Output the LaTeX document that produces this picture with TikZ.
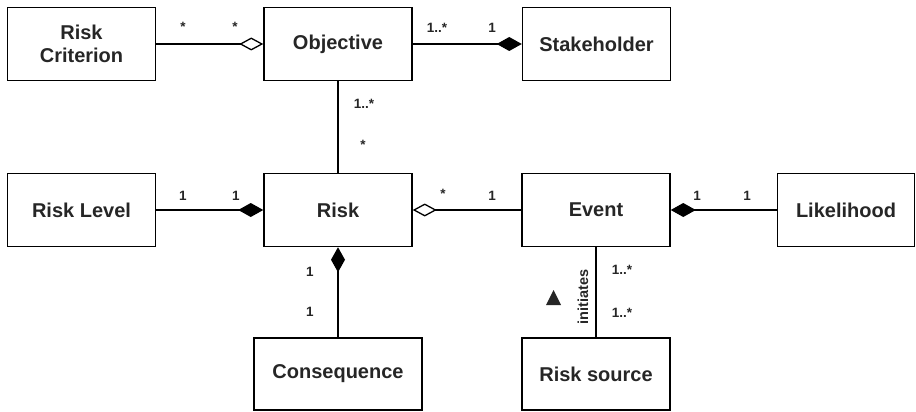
\documentclass[tikz,border=0pt]{standalone}
\usepackage{fontspec}
\setmainfont{Liberation Sans}
\usetikzlibrary{arrows.meta}

\begin{document}
\begin{tikzpicture}[x=1pt,y=-1pt,
        cls/.style={draw,line width=1.5pt,minimum width=148pt,minimum height=73pt,
            align=center,inner sep=2pt,text=black!85,
            font=\fontsize{20}{23}\selectfont\bfseries},
        mult/.style={inner sep=0pt,text=black!85,font=\fontsize{13.5}{15}\selectfont\bfseries},
        link/.style={line width=1.3pt},
        comp/.style={link,-{Diamond[length=25pt,width=14pt]}},
        aggr/.style={link,-{Diamond[open,length=24pt,width=13pt]}}]
                \useasboundingbox (0,0) rectangle (916,412);

                % classes
                \node[cls] (crit) at(81.5,44) {Risk\\Criterion};
                \node[cls] (obj) at(338,44) {Objective};
                \node[cls] (stake) at(596.5,44) {Stakeholder};
                \node[cls] (level) at(81.5,210) {Risk Level};
                \node[cls] (risk) at(338,210) {Risk};
                \node[cls] (event) at(596,210) {Event};
                \node[cls,minimum width=137pt] (like) at(846,210) {Likelihood};
                \node[cls,minimum width=168pt,minimum height=72pt] (cons) at(338,374) {Consequence};
                \node[cls,minimum height=72pt] (src) at(596,374) {Risk source};

                % associations
                \draw[aggr] (crit) -- (obj);
                \draw[comp] (obj) -- (stake);
                \draw[link] (obj) -- (risk);
                \draw[comp] (level) -- (risk);
                \draw[aggr] (event) -- (risk);
                \draw[comp] (like) -- (event);
                \draw[comp] (cons) -- (risk);
                \draw[link] (event) -- (src);

                % multiplicities
                \node[mult] (m1) at(183,27) {*};
                \node[mult] (m2) at(235,27) {*};
                \node[mult] (m3) at(437,28) {1..*};
                \node[mult] (m4) at(492,28) {1};
                \node[mult] (m5) at(364,104) {1..*};
                \node[mult] (m6) at(363,145) {*};
                \node[mult] (m7) at(183,196) {1};
                \node[mult] (m8) at(236,196) {1};
                \node[mult] (m9) at(443,194) {*};
                \node[mult] (m10) at(492,196) {1};
                \node[mult] (m11) at(697,196) {1};
                \node[mult] (m12) at(747,196) {1};
                \node[mult] (m13) at(310,272) {1};
                \node[mult] (m14) at(310,312) {1};
                \node[mult] (m15) at(622,270) {1..*};
                \node[mult] (m16) at(622,313) {1..*};

                % role name
                \node[mult,rotate=90,font=\fontsize{14.5}{16}\selectfont\bfseries] (init) at(583,297) {initiates};
                \fill[black!85] (546,305) -- (561,305) -- (553.5,290) -- cycle;
            \end{tikzpicture}
\end{document}
